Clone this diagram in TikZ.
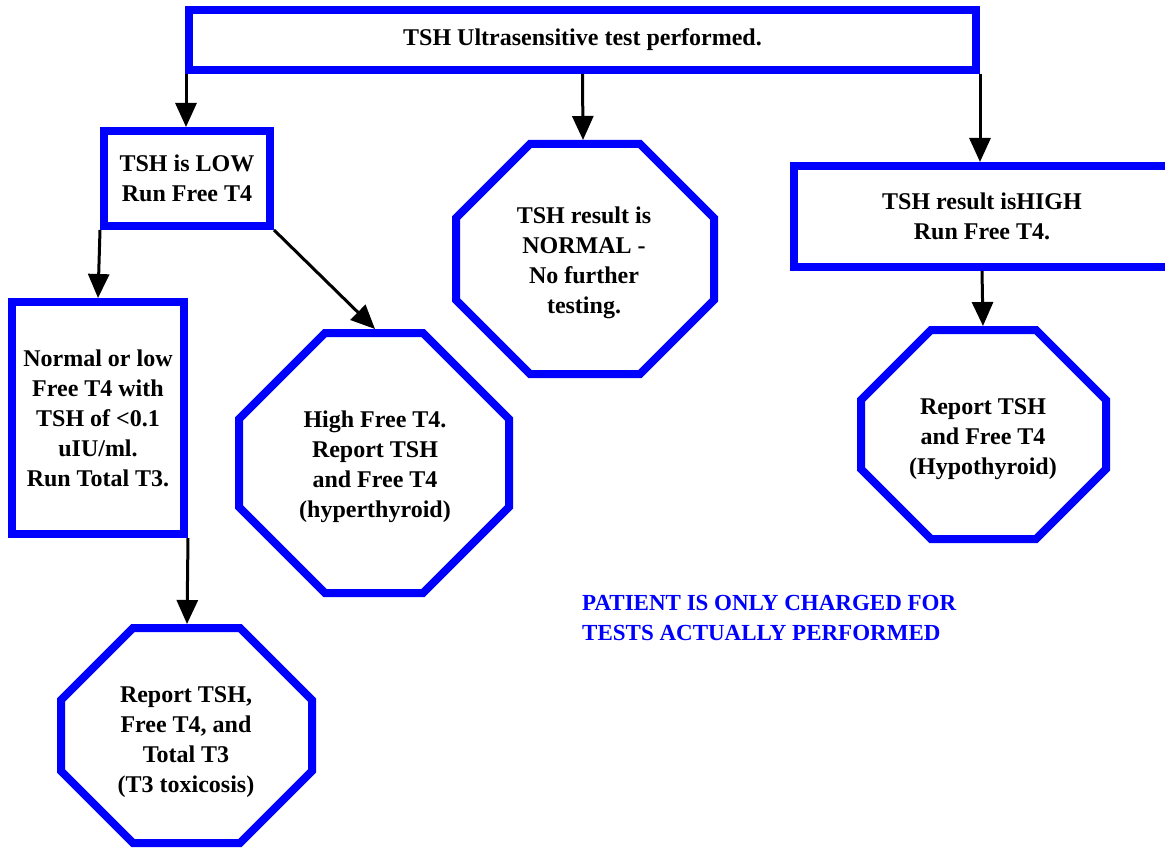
\documentclass[tikz,border=0pt]{standalone}
\usepackage{fontspec}
\setmainfont{Liberation Serif}
\usetikzlibrary{arrows.meta}
\definecolor{flowblue}{RGB}{0,0,255}
\newcommand\myocta[5]{%
  \draw[blueline] ({#1+#5},#2) -- ({#3-#5},#2) -- (#3,{#2+#5}) -- (#3,{#4-#5})
    -- ({#3-#5},#4) -- ({#1+#5},#4) -- (#1,{#4-#5}) -- (#1,{#2+#5}) -- cycle;}
\tikzset{
  blueline/.style={draw=flowblue, line width=8pt, miter limit=10},
  txt/.style={align=center, text=black, font=\fontsize{24}{30}\selectfont\bfseries, inner sep=0pt},
  boxnode/.style={txt, blueline, inner sep=0pt},
  arr/.style={draw=black, line width=3pt, -{Triangle[length=24pt,width=21pt]}, shorten >=0pt},
}
\begin{document}
\begin{tikzpicture}[x=1pt,y=-1pt]
\useasboundingbox (0,0) rectangle (1165,848);
\clip (0,0) rectangle (1165,848);
\fill[white] (0,0) rectangle (1165,848);

% rectangles
\node[boxnode, minimum width=787pt, minimum height=60pt] (top) at (582.5,40) {TSH Ultrasensitive test performed.};
\node[boxnode, minimum width=166pt, minimum height=95pt] (low) at (187,178.5) {TSH is LOW\\Run Free T4};
\node[boxnode, minimum width=172pt, minimum height=232pt] (nrm) at (98,418) {Normal or low\\Free T4 with\\TSH of <0.1\\uIU/ml.\\Run Total T3.};
\node[boxnode, minimum width=376pt, minimum height=101pt] (high) at (982,216.5) {TSH result isHIGH\\Run Free T4.};

% octagons
\myocta{456}{144}{714}{374}{74}
\node[txt] (normal) at (584,263) {TSH result is\\NORMAL -\\No further\\testing.};
\coordinate (normal-top) at (583,140);

\myocta{239}{333}{509}{593}{86}
\node[txt] (hyper) at (375,467) {High Free T4.\\Report TSH\\and Free T4\\(hyperthyroid)};
\coordinate (hyper-top) at (375,329);

\myocta{861}{330}{1106}{539}{70}
\node[txt] (hypo) at (983,439) {Report TSH\\and Free T4\\(Hypothyroid)};
\coordinate (hypo-top) at (983,326);

\myocta{61}{628}{312}{843}{72}
\node[txt] (tox) at (186,742) {Report TSH,\\Free T4, and\\Total T3\\(T3 toxicosis)};
\coordinate (tox-top) at (187,624);

% connectors
\coordinate (topL) at ([xshift=1pt]top.south west);
\draw[arr] (topL) -- (topL |- low.north);
\draw[arr] (top.south) -- (normal-top);
\coordinate (topR) at (top.south east);
\draw[arr] (topR) -- (topR |- high.north);
\draw[arr] (low.south west) -- (nrm.north);
\draw[arr] (low.south east) -- (hyper-top);
\draw[arr] (nrm.south east) -- (tox-top);
\draw[arr] (high.south) -- (hypo-top);

% note
\node[anchor=base west, align=left, text=flowblue, inner sep=0pt,
      font=\fontsize{23}{30}\selectfont\bfseries] (note) at (582,640)
  {PATIENT IS ONLY CHARGED FOR\\TESTS ACTUALLY PERFORMED};
\end{tikzpicture}
\end{document}
